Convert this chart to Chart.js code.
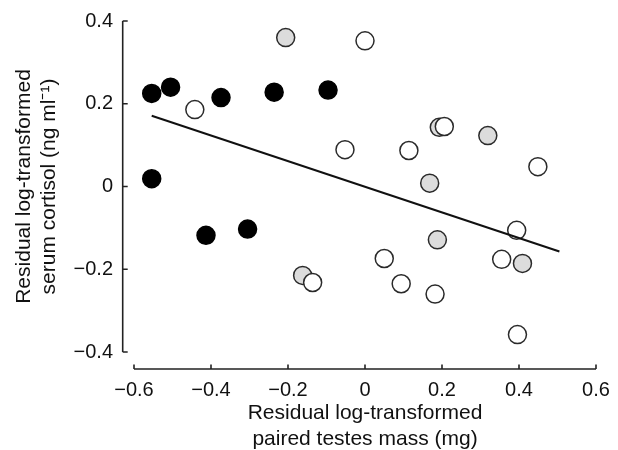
<!DOCTYPE html>
<html>
<head>
<meta charset="utf-8">
<script src="https://cdn.jsdelivr.net/npm/chart.js@4"></script>
<style>
  html, body { margin: 0; padding: 0; background: #fff; }
  #wrap { width: 618px; height: 450px; }
</style>
</head>
<body>
<div id="wrap"><canvas id="c" width="618" height="450"></canvas></div>
<script>
// ---- data ----
const blackX = [-0.554, -0.505, -0.374, -0.236, -0.096, -0.554, -0.413, -0.305];
const blackY = [0.225, 0.240, 0.215, 0.228, 0.233, 0.019, -0.118, -0.103];

const greyX = [-0.206, 0.193, 0.319, 0.168, 0.188, 0.409, -0.162];
const greyY = [0.360, 0.143, 0.123, 0.008, -0.129, -0.186, -0.215];

const whiteX = [-0.442, 0.000, -0.052, 0.114, 0.206, 0.449, 0.394, 0.050, 0.355, -0.136, 0.094, 0.182, 0.396];
const whiteY = [0.186, 0.352, 0.089, 0.087, 0.145, 0.048, -0.106, -0.174, -0.176, -0.232, -0.235, -0.260, -0.358];

const fitX = [-0.554, 0.505];
const fitY = [0.171, -0.157];

const xTicks = [-0.6, -0.4, -0.2, 0, 0.2, 0.4, 0.6];
const yTicks = [-0.4, -0.2, 0, 0.2, 0.4];

const xTitle = ['Residual log-transformed', 'paired testes mass (mg)'];
const yTitle = ['Residual log-transformed', 'serum cortisol (ng ml\u207B\u00B9)'];

// ---- helpers ----
const pts = (xs, ys) => xs.map((x, i) => ({ x: x, y: ys[i] }));
const fmt = v => {
  if (Math.abs(v) < 1e-9) return '0';
  return (v < 0 ? '\u2212' : '') + Math.abs(v).toFixed(1);
};

Chart.defaults.font.family = '"Liberation Sans", Arial, Helvetica, sans-serif';
Chart.defaults.color = '#111';

// detached spines with inward ticks
const spines = {
  id: 'spines',
  afterDraw(chart) {
    const { ctx, chartArea, scales } = chart;
    const xs = scales.x, ys = scales.y;
    const yAxisX = chartArea.left - 11.3;
    const xAxisY = chartArea.bottom + 17;
    ctx.save();
    ctx.strokeStyle = '#222';
    ctx.lineWidth = 1.6;
    ctx.lineCap = 'butt';
    // y spine
    ctx.beginPath();
    ctx.moveTo(yAxisX, ys.getPixelForValue(yTicks[yTicks.length - 1]));
    ctx.lineTo(yAxisX, ys.getPixelForValue(yTicks[0]));
    yTicks.forEach(v => {
      const p = ys.getPixelForValue(v);
      ctx.moveTo(yAxisX, p);
      ctx.lineTo(yAxisX + 5, p);
    });
    // x spine
    ctx.moveTo(xs.getPixelForValue(xTicks[0]), xAxisY);
    ctx.lineTo(xs.getPixelForValue(xTicks[xTicks.length - 1]), xAxisY);
    xTicks.forEach(v => {
      const p = xs.getPixelForValue(v);
      ctx.moveTo(p, xAxisY);
      ctx.lineTo(p, xAxisY - 4.5);
    });
    ctx.stroke();
    ctx.restore();
  }
};

new Chart(document.getElementById('c'), {
  type: 'scatter',
  data: {
    datasets: [
      {
        label: 'fit', data: pts(fitX, fitY), showLine: true,
        borderColor: '#111', borderWidth: 2, pointRadius: 0, fill: false, order: 0
      },
      {
        label: 'white', data: pts(whiteX, whiteY),
        backgroundColor: '#ffffff', borderColor: '#2a2a2a', borderWidth: 1.5,
        pointRadius: 9, pointHoverRadius: 9, order: 1
      },
      {
        label: 'grey', data: pts(greyX, greyY),
        backgroundColor: '#dcdcdc', borderColor: '#2a2a2a', borderWidth: 1.5,
        pointRadius: 9, pointHoverRadius: 9, order: 2
      },
      {
        label: 'black', data: pts(blackX, blackY),
        backgroundColor: '#000000', borderColor: '#000000', borderWidth: 1.5,
        pointRadius: 9, pointHoverRadius: 9, order: 3
      }
    ]
  },
  options: {
    responsive: false,
    animation: false,
    devicePixelRatio: 1,
    layout: { autoPadding: false, padding: { left: 0, right: 22, top: 21, bottom: 0 } },
    plugins: { legend: { display: false }, tooltip: { enabled: false } },
    scales: {
      x: {
        type: 'linear', min: xTicks[0], max: xTicks[xTicks.length - 1],
        afterBuildTicks: s => { s.ticks = xTicks.map(v => ({ value: v })); },
        afterFit: s => { s.height = 98; s.paddingLeft = 0; s.paddingRight = 0; },
        grid: { display: false, drawTicks: false },
        border: { display: false },
        ticks: { callback: v => fmt(v), padding: 26, maxRotation: 0, autoSkip: false,
                 font: { size: 20 }, color: '#111' },
        title: { display: true, text: xTitle, font: { size: 21, lineHeight: '26px' },
                 padding: { top: 0, bottom: -2 }, color: '#111' }
      },
      y: {
        type: 'linear', min: yTicks[0], max: yTicks[yTicks.length - 1],
        afterBuildTicks: s => { s.ticks = yTicks.map(v => ({ value: v })); },
        afterFit: s => { s.width = 134; s.paddingTop = 0; s.paddingBottom = 0; },
        grid: { display: false, drawTicks: false },
        border: { display: false },
        ticks: { callback: v => fmt(v), padding: 21, autoSkip: false,
                 font: { size: 20 }, color: '#111' },
        title: { display: true, text: yTitle, font: { size: 21, lineHeight: '25px' },
                 padding: { top: 12, bottom: 0 }, color: '#111' }
      }
    }
  },
  plugins: [spines]
});
</script>
</body>
</html>
